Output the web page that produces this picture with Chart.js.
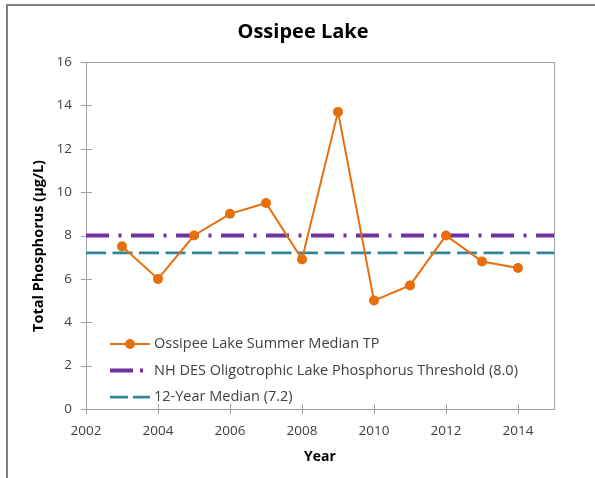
<!DOCTYPE html>
<html>
<head>
<meta charset="utf-8">
<script src="https://cdn.jsdelivr.net/npm/chart.js@4.4.1/dist/chart.umd.min.js"></script>
<style>
  body { margin: 0; background: #fff; }
  #frame { position: absolute; left: 6px; top: 4px; width: 600px; height: 480px;
           border-left: 2px solid #7f7f7f; border-top: 2px solid #7f7f7f; }
  #wrap { position: absolute; left: 0; top: 0; width: 595px; height: 478px; }
</style>
</head>
<body>
<div id="frame"></div>
<div id="wrap"><canvas id="myChart" width="595" height="478"></canvas></div>
<script>
// data
const years = [2003, 2004, 2005, 2006, 2007, 2008, 2009, 2010, 2011, 2012, 2013, 2014];
const summerMedianTP = [7.5, 6.0, 8.0, 9.0, 9.5, 6.9, 13.7, 5.0, 5.7, 8.0, 6.8, 6.5];
const refLineYears = [2002, 2015];
const thresholdTP = 8.0;
const medianTP = 7.2;
const seriesNames = [
    'Ossipee Lake Summer Median TP',
    'NH DES Oligotrophic Lake Phosphorus Threshold (8.0)',
    '12-Year Median (7.2)'
];
const chartTitle = 'Ossipee Lake';
const yTitle = 'Total Phosphorus (µg/L)';
const xTitle = 'Year';

const COLORS = {
    orange: 'rgb(232, 110, 12)',
    purple: 'rgb(112, 48, 160)',
    teal: 'rgb(49, 134, 155)',
    axis: '#a0a0a0',
    text: '#404040'
};
const FONT = "'Open Sans', 'Noto Sans', sans-serif";

const tpPoints = years.map((y, i) => ({ x: y, y: summerMedianTP[i] }));
const thresholdPoints = refLineYears.map(y => ({ x: y, y: thresholdTP }));
const medianPoints = refLineYears.map(y => ({ x: y, y: medianTP }));

// box round the plot, tick marks crossing the axes, titles and legend
const framePlugin = {
    id: 'framePlugin',
    beforeDatasetsDraw(chart) {
        const { ctx, chartArea: a, scales } = chart;
        ctx.save();
        ctx.strokeStyle = COLORS.axis;
        ctx.lineWidth = 1;
        ctx.strokeRect(a.left + 0.5, a.top + 0.5, a.right - a.left, a.bottom - a.top);
        ctx.beginPath();
        scales.y.ticks.forEach(t => {
            const py = Math.round(scales.y.getPixelForValue(t.value)) + 0.5;
            ctx.moveTo(a.left - 5, py);
            ctx.lineTo(a.left + 6, py);
        });
        scales.x.ticks.forEach(t => {
            const px = Math.round(scales.x.getPixelForValue(t.value)) + 0.5;
            ctx.moveTo(px, a.bottom - 5);
            ctx.lineTo(px, a.bottom + 5);
        });
        ctx.stroke();
        ctx.restore();
    },
    afterDraw(chart) {
        const { ctx, chartArea: a } = chart;
        ctx.save();
        // titles
        ctx.fillStyle = '#000';
        ctx.textAlign = 'center';
        ctx.textBaseline = 'alphabetic';
        ctx.font = 'bold 20px ' + FONT;
        ctx.fillText(chartTitle, 303, 37.5);
        ctx.font = 'bold 14px ' + FONT;
        ctx.textBaseline = 'middle';
        ctx.fillText(xTitle, (a.left + a.right) / 2, 457);
        ctx.save();
        ctx.translate(39, 246);
        ctx.rotate(-Math.PI / 2);
        ctx.font = 'bold 14.5px ' + FONT;
        ctx.fillText(yTitle, 0, 0);
        ctx.restore();

        // legend
        const x0 = a.left + 24, x1 = x0 + 40, tx = x1 + 4;
        let y = a.bottom - 65;
        ctx.textAlign = 'left';
        ctx.font = '14.5px ' + FONT;
        chart.data.datasets.forEach(ds => {
            ctx.strokeStyle = ds.borderColor;
            ctx.lineWidth = ds.borderWidth;
            ctx.setLineDash(ds.legendDash || []);
            ctx.beginPath();
            ctx.moveTo(x0, y);
            ctx.lineTo(x1, y);
            ctx.stroke();
            ctx.setLineDash([]);
            if (ds.pointRadius > 0) {
                ctx.fillStyle = ds.borderColor;
                ctx.beginPath();
                ctx.arc((x0 + x1) / 2, y, ds.pointRadius, 0, Math.PI * 2);
                ctx.fill();
            }
            ctx.fillStyle = COLORS.text;
            ctx.fillText(ds.label, tx, y);
            y += 26.5;
        });
        ctx.restore();
    }
};

const data = {
    datasets: [
        {
            label: seriesNames[0],
            data: tpPoints,
            borderColor: COLORS.orange,
            backgroundColor: COLORS.orange,
            borderWidth: 2,
            pointRadius: 5,
            pointBorderWidth: 0,
            tension: 0,
        },
        {
            label: seriesNames[1],
            data: thresholdPoints,
            borderColor: COLORS.purple,
            borderWidth: 4,
            borderDash: [23, 9.5, 3, 9.5],
            legendDash: [23, 7, 3, 10],
            pointRadius: 0,
        },
        {
            label: seriesNames[2],
            data: medianPoints,
            borderColor: COLORS.teal,
            borderWidth: 2.75,
            borderDash: [20, 6.5],
            legendDash: [18, 5],
            pointRadius: 0,
        }
    ]
};

const config = {
    type: 'line',
    data: data,
    plugins: [framePlugin],
    options: {
        responsive: false,
        animation: false,
        events: [],
        layout: { padding: { left: 0, right: 41, top: 62, bottom: 0 } },
        plugins: {
            legend: { display: false },
            tooltip: { enabled: false },
            title: { display: false }
        },
        scales: {
            x: {
                type: 'linear',
                min: 2002,
                max: 2015,
                afterFit(scale) { scale.height = 69; },
                ticks: {
                    stepSize: 2,
                    includeBounds: false,
                    padding: 14,
                    color: COLORS.text,
                    font: { family: FONT, size: 13.5 },
                    callback: v => String(v)
                },
                grid: { display: false, drawTicks: false },
                border: { display: false }
            },
            y: {
                min: 0,
                max: 16,
                afterFit(scale) { scale.width = 86; },
                ticks: {
                    stepSize: 2,
                    padding: 14,
                    color: COLORS.text,
                    font: { family: FONT, size: 13.5 }
                },
                grid: { display: false, drawTicks: false },
                border: { display: false }
            }
        }
    }
};

const myChart = new Chart(document.getElementById('myChart'), config);
</script>
</body>
</html>
